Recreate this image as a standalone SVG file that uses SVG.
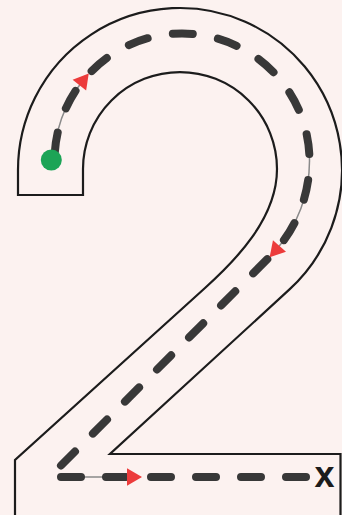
<svg xmlns="http://www.w3.org/2000/svg" xmlns:xlink="http://www.w3.org/1999/xlink" width="342" height="515" viewBox="0 0 342 515">
  <style>
    .outline { fill: none; stroke: #1c1c1c; stroke-width: 2.2; stroke-linejoin: miter; }
    .shaft { fill: none; stroke: #8a8a8a; stroke-width: 1.5; }
    .dash { fill: none; stroke: #383838; stroke-width: 8; stroke-linecap: round; }
    .arrow { fill: #ec3a3a; }
    .label { font-family: "Liberation Sans", Arial, sans-serif; font-weight: bold; font-size: 36px; fill: #1c1c1c; }
  </style>
  <defs>
    <filter id="soft" x="-20%" y="-20%" width="140%" height="140%">
      <feGaussianBlur stdDeviation="0.7"/>
    </filter>
    <polygon id="head" points="10,0 -5,8.66 -5,-8.66"/>
  </defs>
  <rect x="0" y="0" width="342" height="515" fill="#fcf2f0"/>
  <g id="digit">
    <path class="outline" d="M 18 195 L 18 170 A 162 162 0 1 1 289.5 289.4 L 110 454 L 340.5 454 L 340.5 520 L 15 520 L 15 460 L 205 288 C 234.6 261.2 277 219 277 169 A 97 97 0 0 0 83 169 L 83 195 Z"/>
  </g>
  <g id="connectors" filter="url(#soft)">
    <path class="shaft" d="M 54.5 161 A 127.5 127.5 0 0 1 82.5 81.3"/>
    <path class="shaft" d="M 309.4 156.5 A 127.5 127.5 0 0 1 309.5 161 A 135 135 0 0 1 276.2 249.8"/>
    <path class="shaft" d="M 61 477 L 127 477"/>
    <path id="stroke1" class="dash" stroke-dasharray="20 25.6" stroke-dashoffset="37" d="M 54.5 161 A 127.5 127.5 0 0 1 309.5 161"/>
    <path id="stroke2" class="dash" stroke-dasharray="20 25.33" stroke-dashoffset="26.2" d="M 309.5 161 A 135 135 0 0 1 270 256.5 L 61 465.5"/>
    <path id="stroke3" class="dash" stroke-dasharray="20 25" d="M 61 477 L 308 477"/>
    <use class="arrow" xlink:href="#head" transform="translate(82.5,81.3) rotate(-51.3)"/>
    <use class="arrow" xlink:href="#head" transform="translate(276.2,249.8) rotate(131.1)"/>
    <use class="arrow" xlink:href="#head" transform="translate(132,477)"/>
  </g>
  <g id="start" filter="url(#soft)">
    <circle cx="51.3" cy="160" r="10.5" fill="#1ba456"/>
  </g>
  <g id="end">
    <text class="label" x="314.5" y="487">x</text>
  </g>
</svg>
